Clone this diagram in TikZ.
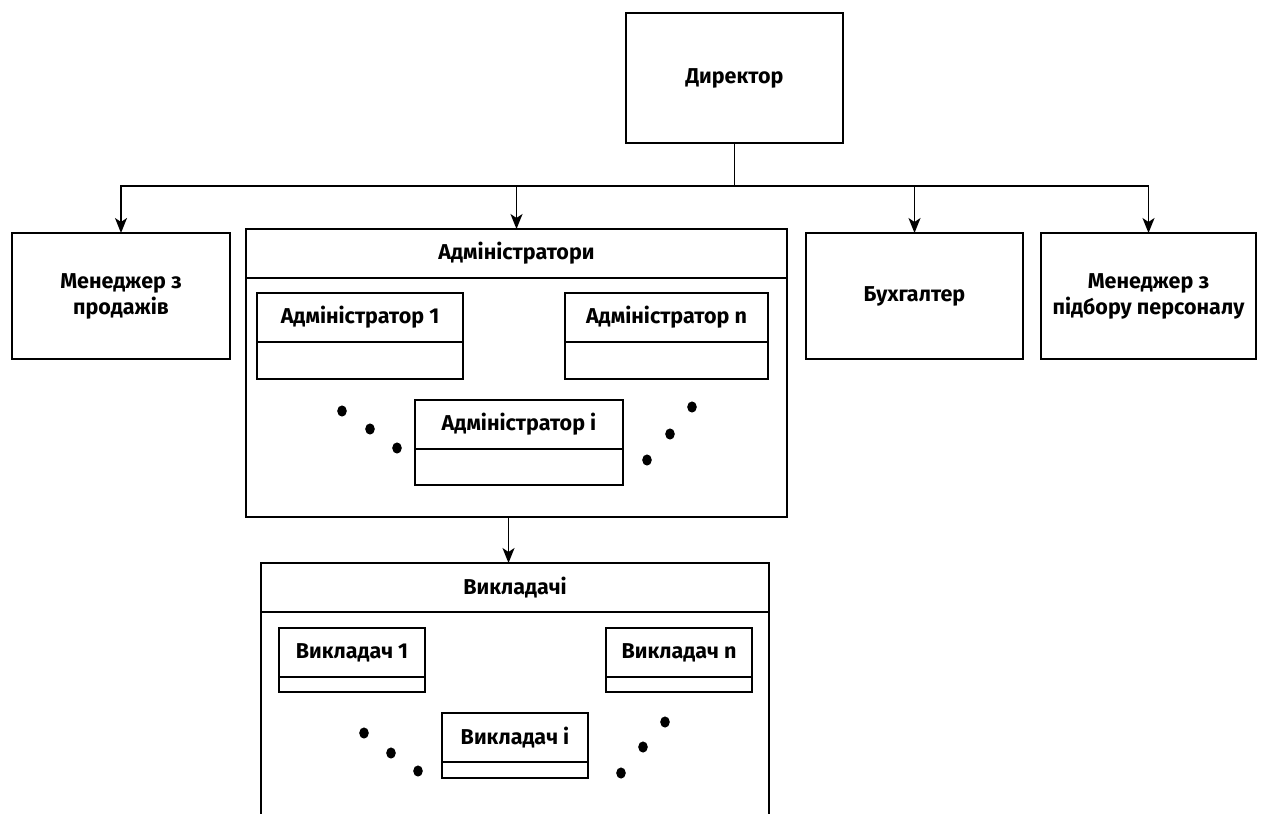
\documentclass[tikz,border=0pt]{standalone}
\usepackage{fontspec}
\setmainfont{Fira Sans}
\usetikzlibrary{arrows.meta,calc}
\begin{document}
\begin{tikzpicture}[x=1pt,y=-1pt,
  box/.style={draw=black, line width=1.8pt, fill=white, inner sep=0pt,
    outer sep=0pt, anchor=north west, align=center,
    font=\fontsize{21.5}{26}\selectfont\bfseries},
  lbl/.style={inner sep=0pt, align=center,
    font=\fontsize{21.5}{26}\selectfont\bfseries},
  sep/.style={line width=1.8pt},
  link/.style={line width=1.7pt, -{Stealth[length=15pt,width=12pt,inset=4pt]}},
  dot/.style={fill=black}]
\clip (0,0) rectangle (1264,814);

% top level
\node[box, minimum width=217, minimum height=130] (dir) at (626,13) {Директор};
\node[box, minimum width=218, minimum height=126] (sales) at (12,233) {Менеджер з\\продажів};
\node[box, minimum width=217, minimum height=126] (acc) at (806,233) {Бухгалтер};
\node[box, minimum width=215, minimum height=126] (hr) at (1041,233) {Менеджер з\\підбору персоналу};

% administrators group
\node[box, minimum width=541, minimum height=288] (admins) at (246,229) {};
\draw[sep] ([yshift=-49pt]admins.north west) -- ([yshift=-49pt]admins.north east);
\node[lbl] (adminsT) at ($(admins.north)+(0,24.5)$) {Адміністратори};

\node[box, minimum width=206, minimum height=86] (a1) at (257,293) {};
\draw[sep] ([yshift=-49pt]a1.north west) -- ([yshift=-49pt]a1.north east);
\node[lbl] (a1T) at ($(a1.north)+(0,24.5)$) {Адміністратор 1};

\node[box, minimum width=203, minimum height=86] (an) at (565,293) {};
\draw[sep] ([yshift=-49pt]an.north west) -- ([yshift=-49pt]an.north east);
\node[lbl] (anT) at ($(an.north)+(0,24.5)$) {Адміністратор n};

\node[box, minimum width=208, minimum height=85] (ai) at (415,400) {};
\draw[sep] ([yshift=-49pt]ai.north west) -- ([yshift=-49pt]ai.north east);
\node[lbl] (aiT) at ($(ai.north)+(0,24.5)$) {Адміністратор і};

\fill[dot] (342,411) ellipse (4.8 and 5.6) (370,429) ellipse (4.8 and 5.6) (397,448) ellipse (4.8 and 5.6);
\fill[dot] (692,407) ellipse (4.8 and 5.6) (670,434) ellipse (4.8 and 5.6) (647,460) ellipse (4.8 and 5.6);

% teachers group
\node[box, minimum width=508, minimum height=300] (teach) at (261,563) {};
\draw[sep] ([yshift=-49pt]teach.north west) -- ([yshift=-49pt]teach.north east);
\node[lbl] (teachT) at ($(teach.north)+(0,24.5)$) {Викладачі};

\node[box, minimum width=146, minimum height=64] (t1) at (279,628) {};
\draw[sep] ([yshift=-49pt]t1.north west) -- ([yshift=-49pt]t1.north east);
\node[lbl] (t1T) at ($(t1.north)+(0,24.5)$) {Викладач 1};

\node[box, minimum width=146, minimum height=64] (tn) at (606,628) {};
\draw[sep] ([yshift=-49pt]tn.north west) -- ([yshift=-49pt]tn.north east);
\node[lbl] (tnT) at ($(tn.north)+(0,24.5)$) {Викладач n};

\node[box, minimum width=146, minimum height=65] (ti) at (442,713) {};
\draw[sep] ([yshift=-49pt]ti.north west) -- ([yshift=-49pt]ti.north east);
\node[lbl] (tiT) at ($(ti.north)+(0,24.5)$) {Викладач і};

\fill[dot] (364,733) ellipse (4.8 and 5.6) (391,753) ellipse (4.8 and 5.6) (418,771) ellipse (4.8 and 5.6);
\fill[dot] (665,722) ellipse (4.8 and 5.6) (643,747) ellipse (4.8 and 5.6) (621,773) ellipse (4.8 and 5.6);

% connectors
\coordinate (bus) at ($(dir.south)+(0,43)$);
\draw[line width=1.7pt] (dir.south) -- (bus);
\draw[link] (bus) -| (sales.north);
\draw[link] (bus) -| (admins.north);
\draw[link] (bus) -| (acc.north);
\draw[link] (bus) -| (hr.north);
\draw[link] ([xshift=-8pt]admins.south) -- ([xshift=-8pt]admins.south |- teach.north);
\end{tikzpicture}
\end{document}
